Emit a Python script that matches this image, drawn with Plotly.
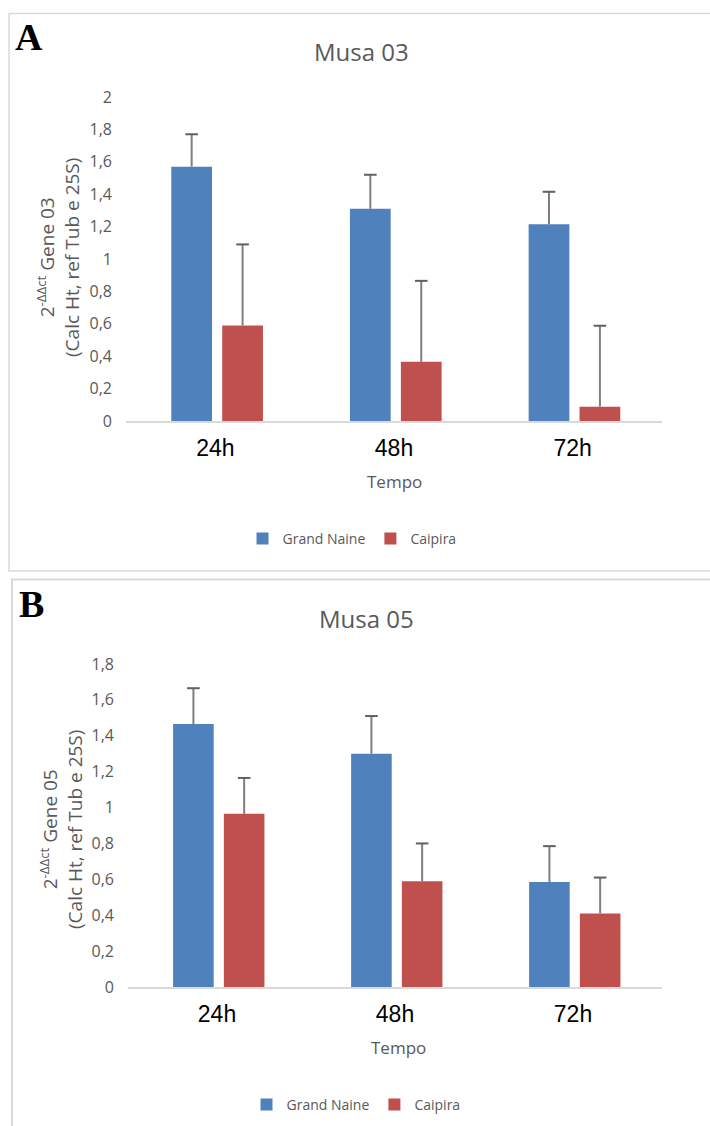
import plotly.graph_objects as go

# ---------------- data ----------------
categories = ["24h", "48h", "72h"]
series_names = ["Grand Naine", "Caipira"]

a_grand_naine = [1.57, 1.31, 1.215]
a_caipira = [0.59, 0.365, 0.088]
a_grand_naine_err = [0.20, 0.21, 0.20]
a_caipira_err = [0.50, 0.50, 0.50]

b_grand_naine = [1.465, 1.30, 0.585]
b_caipira = [0.965, 0.59, 0.41]
b_grand_naine_err = [0.20, 0.21, 0.20]
b_caipira_err = [0.20, 0.21, 0.20]

a_yticks = [0, 0.2, 0.4, 0.6, 0.8, 1, 1.2, 1.4, 1.6, 1.8, 2]
b_yticks = [0, 0.2, 0.4, 0.6, 0.8, 1, 1.2, 1.4, 1.6, 1.8]

# ---------------- style ----------------
W, H = 710, 1126
BLUE = "#4f81bd"
RED = "#c0504d"
GRAY = "#595959"
ERR = "#7f7f7f"
TXT_FONT = "Open Sans"
BARGAP = 0.43
BARGROUPGAP = 0.2


def px(x):
    return x / W


def py(y):
    return 1 - y / H


xpos = list(range(len(categories)))
group_w = 1 - BARGAP
offsets = [-group_w / 4 + 0.01, group_w / 4 + 0.01]

fig = go.Figure()


def add_panel(vals, errs, xa, ya, legend):
    colors = [BLUE, RED]
    for k, (name, v) in enumerate(zip(series_names, vals)):
        fig.add_trace(go.Bar(
            x=xpos, y=v, name=name, offset=offsets[k] - group_w / 4 * (1 - BARGROUPGAP),
            width=group_w / 2 * (1 - BARGROUPGAP),
            marker=dict(color=colors[k], line=dict(width=0)),
            xaxis=xa, yaxis=ya, legend=legend, showlegend=True,
        ))
    # plus-only error bars
    for k, (v, e) in enumerate(zip(vals, errs)):
        ex, ey = [], []
        for i, (vi, ei) in enumerate(zip(v, e)):
            ex += [xpos[i] + offsets[k], xpos[i] + offsets[k], None]
            ey += [vi, vi + ei, None]
        fig.add_trace(go.Scatter(
            x=ex, y=ey, mode="lines", line=dict(color=ERR, width=2),
            xaxis=xa, yaxis=ya, showlegend=False, hoverinfo="skip",
        ))
        fig.add_trace(go.Scatter(
            x=[xpos[i] + offsets[k] for i in range(len(v))],
            y=[vi + ei for vi, ei in zip(v, e)],
            mode="markers",
            marker=dict(symbol="line-ew", size=9, line=dict(color="#606060", width=2)),
            xaxis=xa, yaxis=ya, showlegend=False, hoverinfo="skip",
        ))


add_panel([a_grand_naine, a_caipira], [a_grand_naine_err, a_caipira_err], "x", "y", "legend")
add_panel([b_grand_naine, b_caipira], [b_grand_naine_err, b_caipira_err], "x2", "y2", "legend2")

xaxis_common = dict(
    range=[-0.5, 2.5], tickmode="array", tickvals=xpos, ticktext=categories,
    showline=True, linecolor="#d9d9d9", linewidth=1.5, ticks="", showgrid=False,
    zeroline=False, tickfont=dict(family="Liberation Sans, Arial", size=23, color="#000000"),
    ticklabelstandoff=6, fixedrange=True, automargin=False,
)
yaxis_common = dict(
    showline=False, ticks="", showgrid=False, zeroline=False,
    tickfont=dict(family=TXT_FONT, size=16, color=GRAY),
    ticklabelstandoff=13, tickmode="array", fixedrange=True, automargin=False,
)

legend_common = dict(orientation="h", xanchor="center", yanchor="middle",
                     font=dict(family=TXT_FONT, size=14, color=GRAY), itemwidth=30,
                     bgcolor="rgba(0,0,0,0)", tracegroupgap=0)

fig.update_layout(
    width=W, height=H, margin=dict(l=0, r=0, t=0, b=0, autoexpand=False),
    paper_bgcolor="white", plot_bgcolor="white",
    barmode="overlay",
    separators=",.",
    xaxis=dict(domain=[px(126), px(662)], anchor="y", **xaxis_common),
    yaxis=dict(domain=[py(421), py(97)], anchor="x", range=[0, 2], tickvals=a_yticks, **yaxis_common),
    xaxis2=dict(domain=[px(128), px(662)], anchor="y2", **xaxis_common),
    yaxis2=dict(domain=[py(987), py(664)], anchor="x2", range=[0, 1.8], tickvals=b_yticks, **yaxis_common),
    legend=dict(x=px(352), y=py(539), **legend_common),
    legend2=dict(x=px(356), y=py(1105), **legend_common),
    showlegend=True,
)

# panel borders
fig.add_shape(type="rect", xref="paper", yref="paper",
              x0=px(9), x1=px(730), y0=py(571), y1=py(13.5),
              line=dict(color="#d9d9d9", width=1.5), layer="below")
fig.add_shape(type="rect", xref="paper", yref="paper",
              x0=px(12), x1=px(730), y0=py(1140), y1=py(579.5),
              line=dict(color="#d9d9d9", width=2), layer="below")

annots = [
    dict(text="<b>A</b>", x=px(13), y=py(37), xanchor="left", yanchor="middle",
         font=dict(family="Liberation Serif, Times New Roman", size=38, color="#000")),
    dict(text="<b>B</b>", x=px(17), y=py(604), xanchor="left", yanchor="middle",
         font=dict(family="Liberation Serif, Times New Roman", size=38, color="#000")),
    dict(text="Musa 03", x=px(361), y=py(52), xanchor="center", yanchor="middle",
         font=dict(family=TXT_FONT, size=24, color=GRAY)),
    dict(text="Musa 05", x=px(366), y=py(618), xanchor="center", yanchor="middle",
         font=dict(family=TXT_FONT, size=24, color=GRAY)),
    dict(text="Tempo", x=px(394), y=py(481), xanchor="center", yanchor="middle",
         font=dict(family=TXT_FONT, size=17, color=GRAY)),
    dict(text="Tempo", x=px(398), y=py(1047), xanchor="center", yanchor="middle",
         font=dict(family=TXT_FONT, size=17, color=GRAY)),
    dict(text="2<sup>-ΔΔct</sup> Gene 03<br>(Calc Ht, ref Tub e 25S)", x=px(59), y=py(258),
         xanchor="center", yanchor="middle", textangle=-90,
         font=dict(family=TXT_FONT, size=19, color=GRAY)),
    dict(text="2<sup>-ΔΔct</sup> Gene 05<br>(Calc Ht, ref Tub e 25S)", x=px(61), y=py(830),
         xanchor="center", yanchor="middle", textangle=-90,
         font=dict(family=TXT_FONT, size=19, color=GRAY)),
]
for a in annots:
    fig.add_annotation(xref="paper", yref="paper", showarrow=False, **a)

fig.write_html(
    "out.html",
    config={"displayModeBar": False},
    post_script="document.body.style.margin='0';document.body.style.overflow='hidden';",
)
